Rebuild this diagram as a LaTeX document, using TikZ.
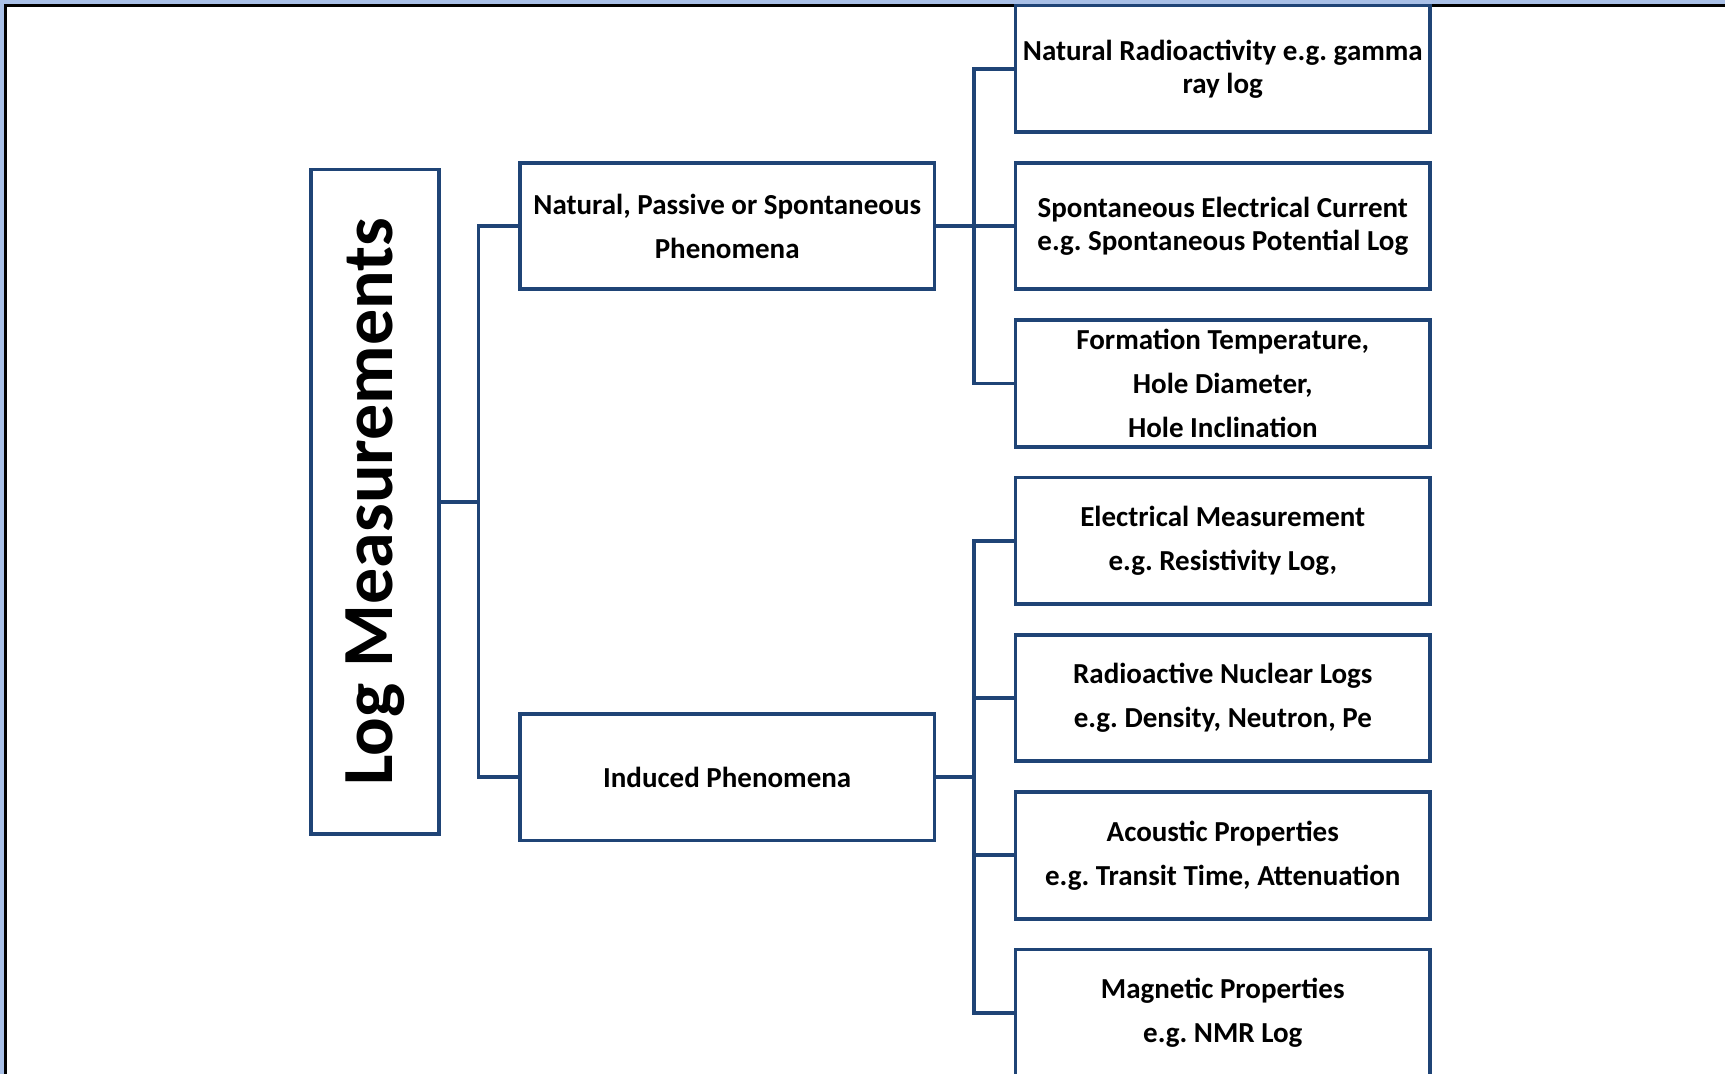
\documentclass[tikz,border=0pt]{standalone}
\usepackage{fontspec}
\setmainfont{Carlito}
\usetikzlibrary{positioning}
\definecolor{boxblue}{HTML}{1F4476}
\definecolor{pageblue}{HTML}{A9C0E7}
\frenchspacing

\begin{document}
\begin{tikzpicture}[x=0.55pt,y=-0.55pt,% picture units follow the sketch pixels, y runs down
	every node/.style={
		align=center,		% use this so that the "\\" for line break works
		inner sep=1pt
		},
	logbox/.style={rectangle,draw=boxblue,line width=1.9pt,fill=white,outer sep=0pt},
	leafbox/.style={logbox,minimum width=207.35pt,minimum height=63.25pt,
		font=\fontsize{14.5}{22}\selectfont\bfseries},
	tightbox/.style={leafbox,font=\fontsize{14.5}{16.5}\selectfont\bfseries},
	link/.style={draw=boxblue,line width=1.9pt},
	node distance=15.4pt
	]
	% page background and frame
	\useasboundingbox (0,0) rectangle (1568,976);
	\fill[pageblue] (0,0) rectangle (1568,976);
	\draw[line width=1.5pt,fill=white] (5,5) rectangle (1600,1000);

	\node[logbox,rotate=90,minimum width=332.2pt,minimum height=63.8pt,
		font=\fontsize{36}{40}\selectfont\bfseries](root) at (341,456){Log Measurements};
	\node[leafbox](nat) at (661,205.5){Natural, Passive or Spontaneous \\ Phenomena};
	\node[leafbox](ind) at (661,706.5){Induced Phenomena};

	\node[tightbox](r1) at (1111.5,62.5){Natural Radioactivity e.g. gamma \\ ray log};
	\node[tightbox](r2)[below= of r1]{Spontaneous Electrical Current \\ e.g. Spontaneous Potential Log};
	\node[leafbox](r3)[below= of r2]{Formation Temperature, \\ Hole Diameter, \\ Hole Inclination};
	\node[leafbox](r4)[below= of r3]{Electrical Measurement \\ e.g. Resistivity Log,};
	\node[leafbox](r5)[below= of r4]{Radioactive Nuclear Logs \\ e.g. Density, Neutron, Pe};
	\node[leafbox](r6)[below= of r5]{Acoustic Properties \\ e.g. Transit Time, Attenuation};
	\node[leafbox](r7)[below= of r6]{Magnetic Properties \\ e.g. NMR Log};

	% bus lines
	\path (root.south) ++(19.8pt,0) coordinate (busA);
	\path (nat.east) ++(19.8pt,0) coordinate (busB);
	\path (ind.east) ++(19.8pt,0) coordinate (busC);
	\draw[link] (root.south) -- (busA);
	\draw[link] (busA) |- (nat.west);
	\draw[link] (busA) |- (ind.west);
	\draw[link] (nat.east) -- (busB);
	\foreach \n in {r1,r2,r3}
		\draw[link] (busB) |- (\n.west);
	\draw[link] (ind.east) -- (busC);
	\foreach \n in {r4,r5,r6,r7}
		\draw[link] (busC) |- (\n.west);
\end{tikzpicture}
\end{document}
